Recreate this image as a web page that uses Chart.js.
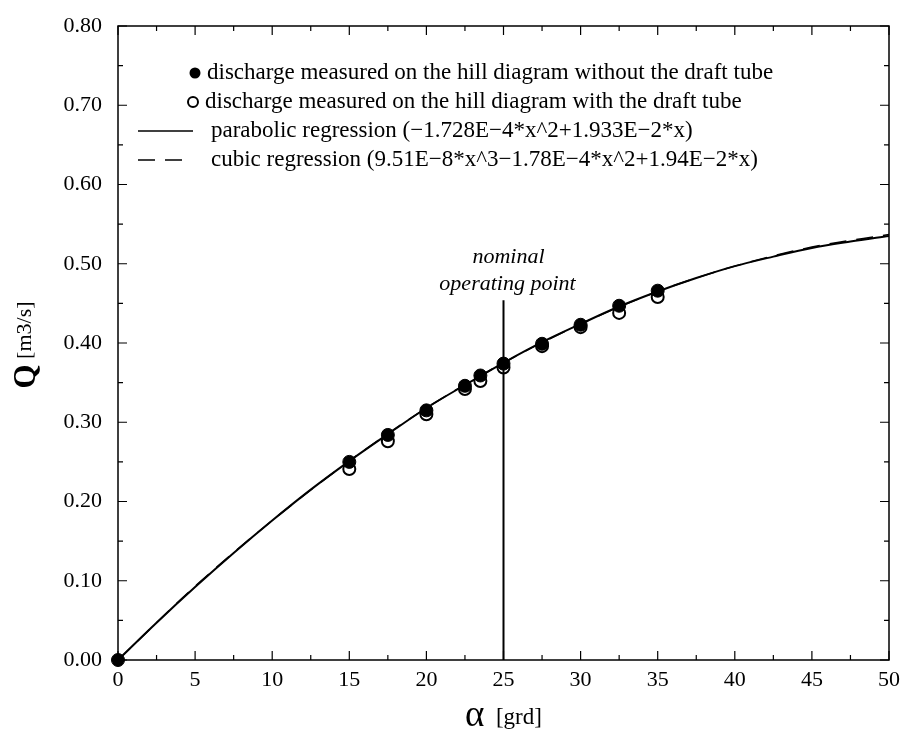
<!DOCTYPE html>
<html>
<head>
<meta charset="utf-8">
<script src="https://cdn.jsdelivr.net/npm/chart.js@4.4.1/dist/chart.umd.min.js"></script>
<style>
  html, body { margin: 0; padding: 0; background: #fff; }
  #wrap { width: 906px; height: 735px; }
</style>
</head>
<body>
<div id="wrap"><canvas id="myChart" width="906" height="735"></canvas></div>
<script>
// measured points (alpha in grd, Q in m3/s)
const angles = [15, 17.5, 20, 22.5, 23.5, 25, 27.5, 30, 32.5, 35];
const qWithoutTube = [0.250, 0.284, 0.315, 0.346, 0.359, 0.374, 0.399, 0.423, 0.447, 0.466];
const qWithTube = [0.241, 0.276, 0.310, 0.342, 0.352, 0.369, 0.396, 0.420, 0.438, 0.458];
const originX = [0];
const originQ = [0];

// regression curves
const parabolicX = [0, 2.5, 5, 7.5, 10, 12.5, 15, 17.5, 20, 22.5, 25, 27.5, 30, 32.5, 35, 37.5, 40, 42.5, 45, 47.5, 50];
const parabolicQ = [0, 0.047, 0.092, 0.135, 0.176, 0.215, 0.251, 0.285, 0.318, 0.347, 0.375, 0.401, 0.424, 0.446, 0.465, 0.482, 0.497, 0.509, 0.520, 0.528, 0.535];
const cubicX = [0, 5, 10, 15, 20, 25, 30, 35, 40, 45, 50];
const cubicQ = [0, 0.093, 0.176, 0.251, 0.318, 0.375, 0.424, 0.465, 0.497, 0.521, 0.537];

// nominal operating point marker
const nominalX = [25, 25];
const nominalQ = [0, 0.454];

const xTicks = [0, 5, 10, 15, 20, 25, 30, 35, 40, 45, 50];
const yTicks = [0, 0.1, 0.2, 0.3, 0.4, 0.5, 0.6, 0.7, 0.8];

const legendLabels = [
  "discharge measured on the hill diagram without the draft tube",
  "discharge measured on the hill diagram with the draft tube",
  "parabolic regression (\u22121.728E\u22124*x^2+1.933E\u22122*x)",
  "cubic regression (9.51E\u22128*x^3\u22121.78E\u22124*x^2+1.94E\u22122*x)",
];

const SERIF = "'Liberation Serif', 'DejaVu Serif', serif";

function toPoints(xs, ys) {
  return xs.map((x, i) => ({ x: x, y: ys[i] }));
}

const frameAndTicks = {
  id: "frameAndTicks",
  beforeDatasetsDraw(chart) {
    const { ctx, chartArea: { top, bottom, left, right }, scales: { x, y } } = chart;
    ctx.save();
    ctx.strokeStyle = "#000";
    ctx.lineWidth = 1.5;
    ctx.strokeRect(left, top, right - left, bottom - top);

    ctx.lineWidth = 1.2;
    ctx.beginPath();
    for (let i = 0; i < xTicks.length; i++) {
      const px = x.getPixelForValue(xTicks[i]);
      ctx.moveTo(px, bottom); ctx.lineTo(px, bottom - 9);
      ctx.moveTo(px, top); ctx.lineTo(px, top + 9);
      if (i < xTicks.length - 1) {
        const mx = x.getPixelForValue((xTicks[i] + xTicks[i + 1]) / 2);
        ctx.moveTo(mx, bottom); ctx.lineTo(mx, bottom - 5);
        ctx.moveTo(mx, top); ctx.lineTo(mx, top + 5);
      }
    }
    for (let i = 0; i < yTicks.length; i++) {
      const py = y.getPixelForValue(yTicks[i]);
      ctx.moveTo(left, py); ctx.lineTo(left + 9, py);
      ctx.moveTo(right, py); ctx.lineTo(right - 9, py);
      if (i < yTicks.length - 1) {
        const my = y.getPixelForValue((yTicks[i] + yTicks[i + 1]) / 2);
        ctx.moveTo(left, my); ctx.lineTo(left + 5, my);
        ctx.moveTo(right, my); ctx.lineTo(right - 5, my);
      }
    }
    ctx.stroke();
    ctx.restore();
  },
};

const textLayer = {
  id: "textLayer",
  afterDraw(chart) {
    const { ctx, chartArea: { left, right }, scales: { x } } = chart;
    ctx.save();
    ctx.fillStyle = "#000";
    ctx.strokeStyle = "#000";

    // y axis title
    ctx.save();
    ctx.translate(25, 345);
    ctx.rotate(-Math.PI / 2);
    ctx.textBaseline = "middle";
    ctx.textAlign = "left";
    ctx.font = "bold 31px " + SERIF;
    const qw = ctx.measureText("Q").width;
    ctx.font = "22px " + SERIF;
    const uw = ctx.measureText(" [m3/s]").width;
    const start = -(qw + uw) / 2;
    ctx.font = "bold 31px " + SERIF;
    ctx.fillText("Q", start, 2);
    ctx.font = "22px " + SERIF;
    ctx.fillText(" [m3/s]", start + qw, 0);
    ctx.restore();

    // x axis title
    ctx.textBaseline = "alphabetic";
    ctx.textAlign = "left";
    ctx.font = "37px " + SERIF;
    const aw = ctx.measureText("\u03b1").width;
    ctx.font = "23px " + SERIF;
    const gw = ctx.measureText("  [grd]").width;
    const xs = (left + right) / 2 - (aw + gw) / 2;
    ctx.font = "37px " + SERIF;
    ctx.fillText("\u03b1", xs, 726);
    ctx.font = "23px " + SERIF;
    ctx.fillText("  [grd]", xs + aw, 724);

    // operating point note, centred over the nominal angle
    const nx = x.getPixelForValue(nominalX[0]);
    ctx.textAlign = "center";
    ctx.font = "italic 22px " + SERIF;
    ctx.fillText("nominal", nx + 5, 263);
    ctx.fillText("operating point", nx + 4, 290);

    // legend
    ctx.textAlign = "left";
    ctx.textBaseline = "middle";
    ctx.font = "23px " + SERIF;
    const rows = [73, 102, 131, 160];

    ctx.beginPath();
    ctx.arc(195, rows[0], 5.5, 0, Math.PI * 2);
    ctx.fill();
    ctx.fillText(legendLabels[0], 207, rows[0]);

    ctx.lineWidth = 2;
    ctx.beginPath();
    ctx.arc(193, rows[1], 5, 0, Math.PI * 2);
    ctx.stroke();
    ctx.fillText(legendLabels[1], 205, rows[1]);

    ctx.lineWidth = 1.5;
    ctx.beginPath();
    ctx.moveTo(138, rows[2]); ctx.lineTo(193, rows[2]);
    ctx.stroke();
    ctx.fillText(legendLabels[2], 211, rows[2]);

    ctx.setLineDash([17, 10]);
    ctx.beginPath();
    ctx.moveTo(138, rows[3]); ctx.lineTo(188, rows[3]);
    ctx.stroke();
    ctx.setLineDash([]);
    ctx.fillText(legendLabels[3], 211, rows[3]);

    ctx.restore();
  },
};

const ctx = document.getElementById("myChart");
// eslint-disable-next-line no-undef
const chart = new Chart(ctx, {
  type: "scatter",
  data: {
    datasets: [
      {
        label: legendLabels[0],
        data: toPoints(angles, qWithoutTube),
        pointRadius: 6.5,
        pointBackgroundColor: "#000",
        pointBorderColor: "#000",
        pointBorderWidth: 1,
        order: 0,
      },
      {
        label: "origin",
        data: toPoints(originX, originQ),
        pointRadius: 6.5,
        pointBackgroundColor: "#000",
        pointBorderColor: "#000",
        clip: false,
        order: 0,
      },
      {
        type: "line",
        label: legendLabels[2],
        data: toPoints(parabolicX, parabolicQ),
        borderColor: "#000",
        borderWidth: 2,
        pointRadius: 0,
        cubicInterpolationMode: "monotone",
        fill: false,
        order: 1,
      },
      {
        type: "line",
        label: legendLabels[3],
        data: toPoints(cubicX, cubicQ),
        borderColor: "#000",
        borderWidth: 1.5,
        borderDash: [17, 10],
        pointRadius: 0,
        cubicInterpolationMode: "monotone",
        fill: false,
        order: 1,
      },
      {
        type: "line",
        label: "nominal operating point",
        data: toPoints(nominalX, nominalQ),
        borderColor: "#000",
        borderWidth: 2,
        pointRadius: 0,
        fill: false,
        order: 1,
      },
      {
        label: legendLabels[1],
        data: toPoints(angles, qWithTube),
        pointRadius: 6,
        pointBackgroundColor: "#fff",
        pointBorderColor: "#000",
        pointBorderWidth: 2,
        order: 2,
      },
    ],
  },
  options: {
    responsive: false,
    animation: false,
    devicePixelRatio: 1,
    layout: {
      padding: { top: 26, right: 17, left: 0, bottom: 0 },
    },
    plugins: {
      legend: { display: false },
      tooltip: { enabled: false },
    },
    scales: {
      x: {
        type: "linear",
        min: 0,
        max: 50,
        afterBuildTicks: (scale) => { scale.ticks = xTicks.map((v) => ({ value: v })); },
        afterFit: (scale) => {
          scale.height = 75;
          scale.paddingLeft = 0;
          scale.paddingRight = 0;
        },
        grid: { display: false, drawTicks: false },
        border: { display: false },
        ticks: {
          color: "#000",
          padding: 7,
          maxRotation: 0,
          font: { family: SERIF, size: 22 },
          callback: (v) => String(v),
        },
      },
      y: {
        type: "linear",
        min: 0,
        max: 0.8,
        afterBuildTicks: (scale) => { scale.ticks = yTicks.map((v) => ({ value: v })); },
        afterFit: (scale) => {
          scale.width = 118;
          scale.paddingTop = 0;
          scale.paddingBottom = 0;
        },
        grid: { display: false, drawTicks: false },
        border: { display: false },
        ticks: {
          color: "#000",
          padding: 16,
          font: { family: SERIF, size: 22 },
          callback: (v) => Number(v).toFixed(2),
        },
      },
    },
  },
  plugins: [frameAndTicks, textLayer],
});
</script>
</body>
</html>
